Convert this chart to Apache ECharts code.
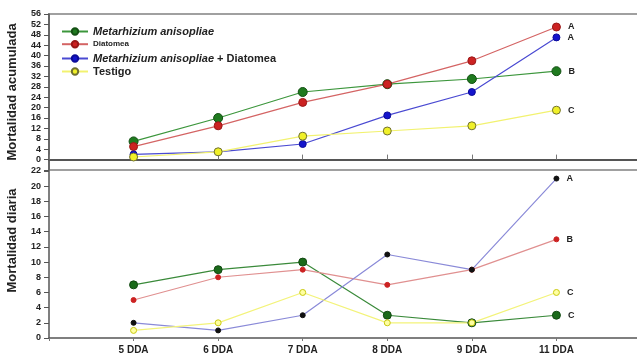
<!DOCTYPE html>
<html>
<head>
<meta charset="utf-8">
<script src="https://cdn.jsdelivr.net/npm/echarts@6/dist/echarts.min.js"></script>
<style>
  html, body { margin: 0; padding: 0; background: #fff; }
  #main { width: 637px; height: 356px; }
</style>
</head>
<body>
<div id="main"></div>
<script>
// categorias (con huecos en los extremos)
var dias = ['', '5 DDA', '6 DDA', '7 DDA', '8 DDA', '9 DDA', '11 DDA', ''];

// mortalidad acumulada
var acumMeta = [null, 7, 16, 26, 29, 31, 34, null];
var acumDiat = [null, 5, 13, 22, 29, 38, 51, null];
var acumMix  = [null, 2, 3, 6, 17, 26, 47, null];
var acumTest = [null, 1, 3, 9, 11, 13, 19, null];

// mortalidad diaria
var diaMeta = [null, 7, 9, 10, 3, 2, 3, null];
var diaDiat = [null, 5, 8, 9, 7, 9, 13, null];
var diaMix  = [null, 2, 1, 3, 11, 9, 21, null];
var diaTest = [null, 1, 2, 6, 2, 2, 6, null];

// letras de significancia
var letrasAcum = ['B', 'A', 'A', 'C'];
var letrasDia = ['C', 'B', 'A', 'C'];

var nombres = ['Metarhizium anisopliae', 'Diatomea', 'Metarhizium anisopliae + Diatomea', 'Testigo'];

var fuente = 'Liberation Sans';

function letra(l) {
    return {
        show: true,
        position: 'right',
        distance: 7,
        color: '#222',
        fontFamily: fuente,
        fontWeight: 'bold',
        fontSize: 9,
        formatter: function (p) { return p.dataIndex === 6 ? l : ''; }
    };
}

function serie(nombre, datos, idx, linea, relleno, borde, tam, l) {
    return {
        name: nombre,
        type: 'line',
        xAxisIndex: idx,
        yAxisIndex: idx,
        data: datos,
        symbol: 'circle',
        symbolSize: tam,
        lineStyle: { color: linea, width: 1.2 },
        itemStyle: { color: relleno, borderColor: borde, borderWidth: 1 },
        label: letra(l),
        emphasis: { disabled: true },
        animation: false
    };
}

var ricos = {
    i: { fontFamily: fuente, fontStyle: 'italic', fontWeight: 'bold', fontSize: 11, color: '#222' },
    n: { fontFamily: fuente, fontWeight: 'bold', fontSize: 11, color: '#222' },
    s: { fontFamily: fuente, fontWeight: 'bold', fontSize: 8, color: '#222' }
};

function leyenda(n, top) {
    return {
        orient: 'vertical',
        left: 61,
        top: top,
        itemWidth: 26,
        itemHeight: 8,
        padding: 0,
        data: [n],
        formatter: function (n) {
            if (n === nombres[0]) return '{i|Metarhizium anisopliae}';
            if (n === nombres[1]) return '{s|Diatomea}';
            if (n === nombres[2]) return '{i|Metarhizium anisopliae}{n| + Diatomea}';
            return '{n|Testigo}';
        },
        textStyle: { rich: ricos }
    };
}

var myChart = echarts.init(document.getElementById('main'));
var option = {
    animation: false,
    textStyle: { fontFamily: fuente },
    grid: [
        { left: 49, right: -4, top: 14, height: 156, show: true, borderColor: '#a0a0a0', borderWidth: 2,
          containLabel: false, outerBoundsMode: 'none' },
        { left: 49, right: -4, top: 171, bottom: 18, containLabel: false, outerBoundsMode: 'none' }
    ],
    legend: [
        leyenda(nombres[0], 26),
        leyenda(nombres[1], 40),
        leyenda(nombres[2], 53),
        leyenda(nombres[3], 66)
    ],
    xAxis: [
        {
            type: 'category', gridIndex: 0, data: dias, boundaryGap: false,
            axisLine: { lineStyle: { color: '#555', width: 2 } },
            axisTick: { inside: true, length: 5, interval: 0, lineStyle: { color: '#777' } },
            axisLabel: { show: false }
        },
        {
            type: 'category', gridIndex: 1, data: dias, boundaryGap: false,
            axisLine: { lineStyle: { color: '#555', width: 1.5 } },
            axisTick: { length: 3, interval: 0, lineStyle: { color: '#777' } },
            axisLabel: { interval: 0, margin: 7, color: '#222', fontWeight: 'bold', fontSize: 10, fontFamily: fuente }
        }
    ],
    yAxis: [
        {
            type: 'value', gridIndex: 0, min: -4, max: 56, interval: 4,
            name: 'Mortalidad acumulada', nameLocation: 'middle', nameGap: 30,
            nameTextStyle: { fontWeight: 'bold', fontSize: 13, color: '#222', fontFamily: fuente },
            axisLine: { show: true, lineStyle: { color: '#555', width: 1.5 } },
            axisTick: { show: true, length: 5, lineStyle: { color: '#555' } },
            axisLabel: {
                margin: 8, color: '#222', fontWeight: 'bold', fontSize: 9, fontFamily: fuente,
                formatter: function (v) { return v < 0 ? '' : v; }
            },
            splitLine: { show: false }
        },
        {
            type: 'value', gridIndex: 1, min: 0, max: 22, interval: 2,
            name: 'Mortalidad diaria', nameLocation: 'middle', nameGap: 30,
            nameTextStyle: { fontWeight: 'bold', fontSize: 13, color: '#222', fontFamily: fuente, padding: [0, 0, 0, 28] },
            axisLine: { show: true, lineStyle: { color: '#555', width: 1.5 } },
            axisTick: { show: true, length: 5, lineStyle: { color: '#555' } },
            axisLabel: { margin: 8, color: '#222', fontWeight: 'bold', fontSize: 9, fontFamily: fuente },
            splitLine: { show: false }
        }
    ],
    series: [
        serie(nombres[0], acumMeta, 0, '#3c963c', '#1f7a1f', '#145014', 9, letrasAcum[0]),
        serie(nombres[1], acumDiat, 0, '#d46464', '#cc2222', '#991818', 8, letrasAcum[1]),
        serie(nombres[2], acumMix, 0, '#4a4ad2', '#1414cc', '#0c0c99', 7, letrasAcum[2]),
        serie(nombres[3], acumTest, 0, '#f2f270', '#f0f028', '#707030', 8, letrasAcum[3]),
        serie(nombres[0], diaMeta, 1, '#3a8a3a', '#1a6a1a', '#124812', 8, letrasDia[0]),
        serie(nombres[1], diaDiat, 1, '#e09090', '#cc2222', '#cc2222', 5, letrasDia[1]),
        serie(nombres[2], diaMix, 1, '#8a8ad8', '#111', '#111', 5, letrasDia[2]),
        serie(nombres[3], diaTest, 1, '#f3f37a', '#ffffa0', '#c8c810', 6, letrasDia[3])
    ]
};
myChart.setOption(option);
</script>
</body>
</html>
